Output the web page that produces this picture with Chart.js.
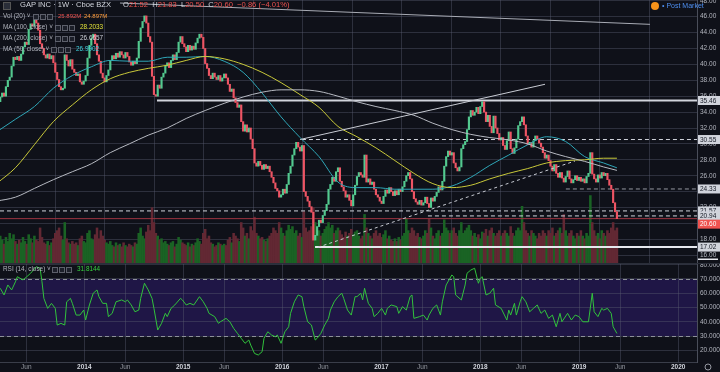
<!DOCTYPE html>
<html><head><meta charset="utf-8">
<script src="https://cdn.jsdelivr.net/npm/chart.js@4.4.1/dist/chart.umd.min.js"></script>
<style>
html,body{margin:0;padding:0;background:#0f1119;width:720px;height:372px;overflow:hidden;font-family:"Liberation Sans",Arial,sans-serif;}
canvas{position:absolute;left:0;}
#c1{top:0;}
#c2{top:263px;}
.row{position:absolute;left:0;height:10px;line-height:10px;white-space:nowrap;color:#b2b5be;font-size:6.4px;}
.row span{position:absolute;top:0;}
.ic{display:inline-block;width:4px;height:4px;border:1px solid #5d606b;background:#1c1f29;}
.hdr{font-size:7.6px;color:#d1d4dc;}
.r{color:#ef5350;font-weight:normal;}
</style></head>
<body>
<canvas id="c1" width="720" height="263"></canvas>
<canvas id="c2" width="720" height="109"></canvas>

<div class="row hdr" style="top:0px;">
  <span style="left:3px;top:2px;width:6px;height:6px;background:#2a2e39;border:1px solid #555;"></span>
  <span style="left:20px;">GAP INC · 1W · Cboe BZX</span>
  <span style="left:123px;">O<b class="r">21.52</b>&nbsp; H<b class="r">21.83</b>&nbsp; L<b class="r">20.50</b>&nbsp; C<b class="r">20.60</b>&nbsp; <b class="r">−0.86 (−4.01%)</b></span>
</div>
<div class="row" style="top:11px;">
  <span style="left:3px;">Vol (20) ˅</span>
  <span style="left:33px;top:3px;" class="ic"></span><span style="left:40px;top:3px;" class="ic"></span><span style="left:47px;top:3px;" class="ic"></span>
  <span style="left:58px;color:#ef5350;font-size:6px;">25.892M</span>
  <span style="left:84px;color:#ff9d3b;font-size:6px;">24.897M</span>
</div>
<div class="row" style="top:22px;">
  <span style="left:3px;">MA (100, close) ˅</span>
  <span style="left:55px;top:3px;" class="ic"></span><span style="left:62px;top:3px;" class="ic"></span><span style="left:69px;top:3px;" class="ic"></span>
  <span style="left:80px;color:#e3e33a;">28.2033</span>
</div>
<div class="row" style="top:33px;">
  <span style="left:3px;">MA (200, close) ˅</span>
  <span style="left:55px;top:3px;" class="ic"></span><span style="left:62px;top:3px;" class="ic"></span><span style="left:69px;top:3px;" class="ic"></span>
  <span style="left:80px;color:#d1d4dc;">26.6657</span>
</div>
<div class="row" style="top:44px;">
  <span style="left:3px;">MA (50, close) ˅</span>
  <span style="left:51px;top:3px;" class="ic"></span><span style="left:58px;top:3px;" class="ic"></span><span style="left:65px;top:3px;" class="ic"></span>
  <span style="left:76px;color:#3ed3e0;">26.9902</span>
</div>
<div class="row" style="top:264px;">
  <span style="left:3px;">RSI (14, close) ˅</span>
  <span style="left:52px;top:3px;" class="ic"></span><span style="left:59px;top:3px;" class="ic"></span><span style="left:66px;top:3px;" class="ic"></span>
  <span style="left:77px;color:#36d13f;">31.8144</span>
</div>
<div class="row" style="top:1px;font-size:7px;">
  <span style="left:651px;top:1px;width:8px;height:8px;border-radius:50%;background:#f7931a;"></span>
  <span style="left:662px;color:#4e8ff0;">•&nbsp;Post Market</span>
</div>

<script>
// ---------------- DATA ----------------
const firstWeek = '2013-02-11';
const firstOpen = 33.9;
const closes = [
34.5,35.3,35.9,36.4,36.0,37.2,38.0,38.4,39.8,40.9,
40.6,41.0,40.5,41.3,42.2,42.8,42.5,44.4,45.1,44.8,
45.8,45.2,44.3,42.6,42.0,41.2,40.8,41.3,40.7,41.1,
40.2,39.0,38.1,37.2,36.8,37.0,41.2,40.5,39.8,40.6,
39.4,39.0,38.6,38.8,37.8,37.5,37.9,38.6,40.8,42.4,
43.3,43.8,42.6,41.2,40.4,38.9,38.3,37.8,38.6,39.3,
40.5,41.1,40.7,41.4,40.9,41.6,41.2,40.8,41.5,41.0,
40.3,39.9,40.4,40.1,40.8,42.9,44.6,45.4,46.1,45.2,
43.5,42.8,38.5,36.2,36.0,37.4,37.0,38.4,38.9,39.8,
40.2,39.6,40.5,41.2,40.6,41.5,42.8,43.5,42.6,42.2,
41.6,42.4,41.8,42.3,41.9,42.7,43.3,43.8,43.4,42.0,
40.1,39.5,38.6,38.2,38.9,38.4,38.1,38.6,37.9,38.3,
38.8,38.3,37.5,36.6,36.9,35.8,35.2,34.6,34.9,32.8,
31.6,32.4,31.5,32.0,30.6,29.4,27.6,27.2,27.8,27.3,
26.8,27.4,26.9,27.2,26.5,25.8,25.1,24.4,24.1,23.3,
23.6,24.3,23.8,24.9,26.3,27.2,28.6,29.4,30.2,29.6,
29.1,29.8,24.0,23.4,22.8,22.1,21.4,17.9,18.5,19.6,
20.4,20.1,21.0,21.6,22.4,24.3,24.9,25.8,25.3,26.5,
27.0,25.3,24.6,24.1,23.3,23.6,22.9,22.2,23.6,24.8,
25.9,26.4,26.1,25.8,28.6,25.2,25.6,24.9,25.2,24.3,
23.6,23.3,22.8,22.5,23.4,24.2,23.8,24.5,24.0,23.5,
24.1,23.6,24.3,24.0,24.6,25.3,26.0,26.4,25.6,24.0,
23.1,22.7,22.4,22.9,22.3,22.6,23.3,22.5,22.0,23.2,
22.8,23.4,23.9,24.6,24.2,25.3,27.2,28.4,29.1,28.6,
28.9,27.6,27.0,26.6,27.1,29.4,29.9,30.3,31.8,33.4,
34.2,33.6,34.0,34.6,33.8,34.7,35.3,34.0,32.8,33.6,
32.2,31.4,33.5,32.0,31.3,30.5,30.8,29.8,29.3,30.4,
31.5,29.4,28.8,29.5,30.6,32.3,32.8,33.4,32.4,31.0,
29.9,30.2,29.6,30.4,31.0,30.6,30.1,29.6,28.9,28.2,
28.6,27.9,27.2,26.6,27.4,26.3,25.8,26.4,25.7,25.2,
25.9,26.6,25.6,25.1,25.5,26.0,25.4,25.8,25.3,25.6,
25.1,25.9,26.3,28.9,26.2,25.6,25.2,26.1,25.7,26.4,
26.0,26.3,25.5,24.8,24.3,22.6,21.46,20.60];
const volumes = [
18,15,20,17,14,19,16,22,18,21, 16,14,17,15,19,16,14,21,18,15,
20,17,16,26,19,15,14,16,13,15, 18,22,24,26,20,17,30,18,15,14,
16,14,15,13,18,20,16,15,22,24, 18,17,21,26,18,24,20,17,15,14,
16,13,12,15,13,14,12,15,13,12, 14,13,12,15,14,22,26,20,18,23,
28,24,41,30,22,20,17,18,15,16, 14,13,15,16,12,14,19,17,15,14,
13,15,12,14,13,15,18,16,14,22, 25,18,20,15,14,12,13,15,14,13,
14,13,17,19,15,22,20,18,16,30, 26,20,22,18,27,24,34,22,20,18,
19,17,16,18,20,22,26,24,22,30, 26,22,20,24,28,25,27,22,24,20,
22,19,38,26,23,24,27,41,30,22, 24,20,22,25,27,30,26,28,22,24,
26,24,21,19,23,20,22,25,21,23, 24,20,18,20,36,26,22,20,18,22,
24,20,22,19,21,24,18,20,17,16, 18,16,19,17,20,22,33,24,22,26,
24,20,22,19,18,20,24,22,33,26, 20,18,22,24,20,22,32,26,24,22,
24,26,22,20,24,30,22,24,26,28, 24,20,22,19,21,18,23,22,25,20,
24,26,22,20,22,24,20,22,24,22, 20,27,22,20,24,26,24,42,30,24,
22,20,24,22,20,18,22,20,24,22, 20,24,22,26,20,22,24,26,22,36,
24,20,22,24,20,18,22,20,24,20, 18,22,20,50,30,24,20,22,18,24,
22,20,24,22,26,30,24,26];
const maWeeks = [0,10,20,30,40,50,60,70,80,90,100,110,120,130,140,150,160,170,180,190,200,210,220,230,240,250,260,270,280,290,300,310,320,327];
const ma100 = [25.0,27.0,29.9,32.8,34.9,36.8,38.2,39.0,39.5,39.9,40.5,41.0,40.7,40.0,39.0,37.7,36.2,34.6,32.2,30.9,29.5,27.9,26.3,25.0,24.5,24.8,25.6,26.3,26.9,27.6,27.9,28.0,28.2,28.2];
const ma200 = [22.8,23.3,24.4,25.5,26.5,27.5,28.9,30.0,31.1,32.0,33.2,34.2,35.1,35.9,36.5,36.8,36.8,36.6,36.0,35.3,34.7,34.2,33.6,32.6,31.8,31.2,30.8,30.5,30.0,29.1,28.4,27.8,27.1,26.67];
const ma50  = [31.5,33.1,34.7,37.0,38.6,39.7,40.5,40.4,40.4,40.9,40.9,41.0,40.4,39.0,36.4,33.4,30.8,28.4,25.2,24.5,24.5,24.3,24.3,24.3,24.7,25.8,27.3,28.6,29.9,30.9,30.3,28.4,27.6,26.99];
const rsiWeeks = [2,4,6,8,10,11,14,16,18,21,23,24,25,27,29,31,32,34,36,37,39,40,42,44,46,47,49,51,53,54,56,58,59,61,63,66,68,69,71,73,75,76,78,80,82,83,85,87,89,90,92,94,97,98,100,102,104,107,109,111,112,115,117,118,121,123,125,127,129,131,133,134,136,138,140,141,143,145,147,148,150,152,154,155,157,159,161,162,164,166,168,169,171,173,175,176,178,180,182,183,185,187,189,190,192,193,194,196,198,199,201,203,205,206,208,211,212,214,216,218,219,220,223,225,227,228,230,232,234,235,237,240,241,242,245,247,248,250,252,254,255,256,258,260,262,263,266,269,270,271,273,274,276,277,279,281,283,285,287,289,291,293,295,297,298,301,303,305,307,309,312,314,315,317,319,320,322,324,325,327];
const rsiValues = [63.5,58.8,65.8,62.3,68,71.6,69.3,71.6,74,78.6,77.5,68,56.4,49.4,52.9,49.4,37.7,38.9,37.7,54,56.4,52.9,44.7,44.7,48.2,41.2,51.8,60,62.3,57.6,52.9,52.9,43.6,45.9,54,55.3,54,55.3,51.8,47,48.2,56.4,67,62.3,56.4,49.4,34.2,38.9,45.9,43.6,49.4,51.8,56.4,55.3,51.8,52.9,51.8,57.6,54,49.4,45.9,43.6,38.9,40,42.4,40,35.4,31.9,28.4,24.9,27.2,23.7,17.8,16.7,19,28.4,33,30.7,29.5,30.7,24.9,33,36.5,45.9,54,58.8,57.6,50.6,40,37.7,27.2,28.4,31.9,37.7,42.4,48.2,54,57.6,60,56.4,48.2,44.7,57.6,57.6,60,55.3,63.5,52.9,49.4,43.6,45.9,49.4,44.7,49.4,51.8,50.6,45.9,50.6,48.2,57.6,58.8,42.4,43.6,44.7,41.2,44.7,49.4,51.8,44.7,54,65.8,72.8,71.6,58.8,55.3,65.8,74,76.3,77.5,67,70.5,71.6,58.8,60,63.5,51.8,49.4,41.2,48.2,44.7,52.9,44.7,54,57.6,54,47,49.4,51.8,45.9,48.2,42.4,44.7,36.5,45.9,40,45.9,41.2,44.7,43.6,40,40,60,47,43.6,49.4,48.2,49.4,45.9,36.5,31.81];
const priceTicks = [16,18,20,22,24,26,28,30,32,34,36,38,40,42,44,46,48];
const rsiTicks = [20,30,40,50,60,70,80];
const rsiBand = [30,70];
const tickDates = ['2013-06-01','2014-01-01','2014-06-01','2015-01-01','2015-06-01','2016-01-01','2016-06-01','2017-01-01','2017-06-01','2018-01-01','2018-06-01','2019-01-01','2019-06-01','2020-01-01'];
const tickLabels = ['Jun','2014','Jun','2015','Jun','2016','Jun','2017','Jun','2018','Jun','2019','Jun','2020'];
// drawn levels / trend lines (price levels and anchor weeks)
const levelPrices = [35.46,30.55,24.33,21.57,20.94,17.02];
const levelStartWeeks = [84.6,161.0,300.1,1.87,227.4,167.9];
const lastPrice = 20.60;
const trendUpWeeks = [160.0,289.1], trendUpPrices = [30.55,37.5];
const trendTopWeeks = [65.1,344.4], trendTopPrices = [47.72,45.04];
const trendDashWeeks = [169.4,304.9], trendDashPrices = [17.0,27.85];

// ---------------- CHART ----------------
const xMin = 1.87, xMax = 369.2;
const GRID = 'rgba(88,94,112,0.42)';
const UP = '#53c98f', DOWN = '#ee5564', VUP = '#1a6324', VDN = '#622833';
const weekOf = d => (Date.parse(d) - Date.parse(firstWeek)) / (7*864e5);
const tickWeeks = tickDates.map(weekOf);
const opens = closes.map((c,i)=> i ? closes[i-1] : firstOpen);
const isUp = closes.map((c,i)=> c >= opens[i]);
const pts = (ws, vs) => ws.map((w,k)=>({x:w, y:vs[k]}));
const lineDs = (data, color, width, dash, order) => ({type:'line', data, borderColor:color, borderWidth:width, borderDash:dash||[], pointRadius:0, tension:0, order, yAxisID:'y'});
const dashedSet = [false,true,true,true,true,false];
const levelColors = ['#d1d4dc','#d1d4dc','#9598a1','#d1d4dc','#d1d4dc','#e6e8ee'];

const levelDatasets = levelPrices.map((p,k)=>lineDs([{x:levelStartWeeks[k],y:p},{x:xMax,y:p}], levelColors[k], dashedSet[k]?1:2, dashedSet[k]?[4,3]:[], 5));

const tagPlugin = {
  id:'tags',
  afterDraw(chart){
    const ctx = chart.ctx, ys = chart.scales.y;
    ctx.save();
    ctx.font = '6.5px "Liberation Sans"';
    ctx.textBaseline = 'middle';
    const tags = levelPrices.map(p=>({p, y: ys.getPixelForValue(p), bg:'#d1d4dc', fg:'#131722'}));
    tags.push({p:lastPrice, y: ys.getPixelForValue(lastPrice)+5.5, bg:'#ef5350', fg:'#ffffff'});
    tags.forEach(t=>{
      ctx.fillStyle = t.bg; ctx.fillRect(698, t.y-4.5, 22, 9);
      ctx.fillStyle = t.fg; ctx.fillText(t.p.toFixed(2), 700, t.y+0.5);
    });
    ctx.fillStyle = '#e6e8ee'; ctx.fillRect(698, 258.5, 20, 1.5);
    ctx.restore();
  }
};

new Chart(document.getElementById('c1'), {
  type:'bar',
  data:{datasets:[
    lineDs(pts(trendTopWeeks, trendTopPrices), '#a9acb5', 1, [], 1),
    lineDs(pts(trendUpWeeks, trendUpPrices), '#c9ccd4', 1, [], 1),
    lineDs(pts(trendDashWeeks, trendDashPrices), '#c9ccd4', 1, [3,3], 1),
    {type:'line', data:pts(maWeeks, ma200), borderColor:'#b7bac2', borderWidth:1, pointRadius:0, cubicInterpolationMode:'monotone', order:2, yAxisID:'y'},
    {type:'line', data:pts(maWeeks, ma100), borderColor:'#c9c93a', borderWidth:1, pointRadius:0, cubicInterpolationMode:'monotone', order:2, yAxisID:'y'},
    {type:'line', data:pts(maWeeks, ma50), borderColor:'#2fa7b8', borderWidth:1, pointRadius:0, cubicInterpolationMode:'monotone', order:2, yAxisID:'y'},
    {type:'bar', data: closes.map((c,i)=>({x:i, y:[opens[i], c]})), backgroundColor: isUp.map(u=>u?UP:DOWN), barThickness:1.5, grouped:false, minBarLength:1, order:3, yAxisID:'y'},
    ...levelDatasets,
    lineDs([{x:xMin,y:lastPrice},{x:xMax,y:lastPrice}], '#9c3440', 1, [], 6),
    {type:'bar', data: volumes.map((v,i)=>({x:i, y:v})), backgroundColor: isUp.map(u=>u?VUP:VDN), barThickness:1.9, grouped:false, order:10, yAxisID:'vol'}
  ]},
  options:{
    responsive:false, animation:false, devicePixelRatio:1,
    layout:{padding:0},
    plugins:{legend:{display:false}, tooltip:{enabled:false}},
    scales:{
      x:{type:'linear', min:xMin, max:xMax, offset:false,
         afterBuildTicks: s=>{ s.ticks = tickWeeks.map(v=>({value:v})); },
         ticks:{display:false}, grid:{color:GRID, drawTicks:false}, border:{display:false},
         afterFit: s=>{ s.height=0; s.paddingLeft=0; s.paddingRight=0; }},
      y:{position:'right', min:15.02, max:48.10,
         afterBuildTicks: s=>{ s.ticks = priceTicks.map(v=>({value:v})); },
         ticks:{color:'#b2b5be', font:{size:6.5, family:'Liberation Sans'}, padding:3, callback:v=>Number(v).toFixed(2)},
         grid:{color:GRID, drawTicks:false}, border:{color:'#4a4e5a'},
         afterFit: s=>{ s.width=23; s.paddingTop=0; s.paddingBottom=0; }},
      vol:{display:false, position:'left', min:0, max:195}
    }
  },
  plugins:[tagPlugin]
});

const rsiPlugin = {
  id:'rsiband',
  beforeDraw(chart){
    const {ctx, chartArea:a, scales:{y}} = chart;
    ctx.save();
    ctx.fillStyle = '#1f1646';
    const y1 = y.getPixelForValue(rsiBand[1]), y0 = y.getPixelForValue(rsiBand[0]);
    ctx.fillRect(a.left, y1, a.right-a.left, y0-y1);
    ctx.restore();
  },
  beforeDatasetsDraw(chart){
    const {ctx, chartArea:a, scales:{y}} = chart;
    ctx.save();
    ctx.strokeStyle = '#8d909a'; ctx.lineWidth = 1; ctx.setLineDash([4,3]);
    rsiBand.forEach(v=>{ const yy = Math.round(y.getPixelForValue(v))+0.5; ctx.beginPath(); ctx.moveTo(a.left, yy); ctx.lineTo(a.right, yy); ctx.stroke(); });
    ctx.setLineDash([]);
    ctx.strokeStyle = '#2a2e39'; ctx.beginPath(); ctx.moveTo(0,0.5); ctx.lineTo(720,0.5); ctx.stroke();
    ctx.restore();
  },
  afterDraw(chart){
    const ctx = chart.ctx;
    ctx.save(); ctx.strokeStyle = '#9598a1'; ctx.lineWidth = 1;
    ctx.beginPath(); ctx.arc(708, 104, 3, 0, Math.PI*2); ctx.stroke(); ctx.restore();
  }
};

new Chart(document.getElementById('c2'), {
  type:'line',
  data:{datasets:[{data: pts(rsiWeeks, rsiValues), borderColor:'#31c23c', borderWidth:1, pointRadius:0, tension:0}]},
  options:{
    responsive:false, animation:false, devicePixelRatio:1,
    layout:{padding:0},
    plugins:{legend:{display:false}, tooltip:{enabled:false}},
    scales:{
      x:{type:'linear', min:xMin, max:xMax, offset:false,
         afterBuildTicks: s=>{ s.ticks = tickWeeks.map(v=>({value:v})); },
         ticks:{autoSkip:false, maxRotation:0, padding:1,
                color: c => /^\d/.test(tickLabels[c.index]) ? '#d1d4dc' : '#9598a1',
                font: c => ({size:6.5, family:'Liberation Sans', weight: /^\d/.test(tickLabels[c.index]) ? 'bold' : 'normal'}),
                callback:(v,i)=>tickLabels[i]},
         grid:{color:GRID, drawTicks:false}, border:{color:'#3a3e4a'},
         afterFit: s=>{ s.height=10; s.paddingLeft=0; s.paddingRight=0; }},
      y:{position:'right', min:11.8, max:81.2,
         afterBuildTicks: s=>{ s.ticks = rsiTicks.map(v=>({value:v})); },
         ticks:{color:'#b2b5be', font:{size:6.5, family:'Liberation Sans'}, padding:3, callback:v=>Number(v).toFixed(4)},
         grid:{color:GRID, drawTicks:false}, border:{color:'#4a4e5a'},
         afterFit: s=>{ s.width=23; s.paddingTop=0; s.paddingBottom=0; }}
    }
  },
  plugins:[rsiPlugin]
});
</script>
</body></html>
